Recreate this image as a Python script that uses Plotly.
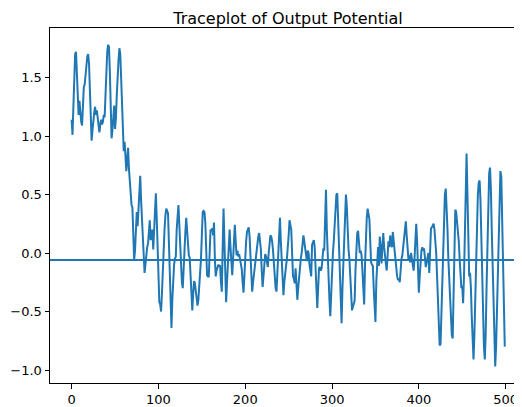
import plotly.graph_objects as go

title_text = "Traceplot of Output Potential"
mean_level = -0.06
x_ticks = [0, 100, 200, 300, 400, 500]
y_ticks = [-1.0, -0.5, 0.0, 0.5, 1.0, 1.5]

# trace values, index 0..499
trace_vals = [
    1.14, 1.01, 1.25, 1.55, 1.70, 1.72, 1.55, 1.35, 1.18, 1.30,
    1.20, 1.12, 1.09, 1.30, 1.42, 1.44, 1.55, 1.65, 1.68, 1.70,
    1.62, 1.40, 1.15, 0.96, 1.05, 1.15, 1.20, 1.25, 1.18, 1.22,
    1.17, 1.10, 1.03, 1.10, 1.14, 1.10, 1.12, 1.18, 1.16, 1.35,
    1.55, 1.72, 1.78, 1.76, 1.55, 1.20, 0.98, 1.05, 1.18, 1.26,
    1.06, 1.15, 1.35, 1.55, 1.65, 1.75, 1.70, 1.50, 1.25, 1.10,
    0.87, 0.95, 0.84, 0.70, 0.80, 0.90, 0.72, 0.60, 0.45, 0.41,
    0.39, 0.15, -0.06, 0.02, 0.20, 0.35, 0.23, 0.40, 0.55, 0.66,
    0.45, 0.28, 0.10, 0.03, -0.17, -0.10, 0.00, 0.05, 0.08, 0.15,
    0.28, 0.11, 0.18, 0.20, 0.03, 0.25, 0.45, 0.51, 0.30, 0.03,
    -0.20, -0.42, -0.44, -0.50, -0.35, -0.12, 0.05, 0.20, 0.32, 0.38,
    0.36, 0.34, 0.10, -0.15, -0.45, -0.64, -0.40, -0.15, -0.10, -0.05,
    -0.03, 0.20, 0.38, 0.41, 0.25, 0.05, -0.12, -0.25, -0.30, -0.10,
    0.03, 0.18, 0.30, 0.15, 0.01, -0.02, -0.04, -0.25, -0.42, -0.49,
    -0.35, -0.24, -0.26, -0.34, -0.40, -0.45, -0.40, -0.29, -0.15, -0.05,
    0.15, 0.35, 0.36, 0.35, 0.26, 0.05, -0.19, -0.20, -0.20, 0.00,
    0.20, 0.19, 0.21, 0.15, 0.26, -0.05, -0.20, -0.15, -0.11, -0.10,
    -0.11, -0.11, -0.25, -0.33, 0.05, 0.38, 0.10, -0.20, -0.42, -0.25,
    -0.05, 0.10, 0.20, 0.05, -0.10, -0.19, -0.05, 0.12, 0.24, 0.10,
    -0.02, 0.02, -0.03, -0.01, -0.05, -0.10, -0.14, -0.25, -0.34, -0.20,
    -0.02, 0.10, 0.18, 0.20, 0.22, 0.14, -0.05, -0.20, -0.33, -0.25,
    -0.18, -0.12, -0.05, 0.05, 0.08, 0.14, 0.17, 0.10, 0.03, -0.15,
    -0.29, -0.20, -0.05, -0.01, -0.03, -0.08, -0.12, 0.00, 0.10, 0.15,
    0.14, 0.10, 0.02, -0.10, -0.22, -0.30, -0.33, -0.15, 0.05, 0.20,
    0.30, 0.10, -0.08, -0.25, -0.36, -0.25, -0.15, -0.11, -0.05, 0.02,
    0.15, 0.28, 0.25, 0.20, 0.00, -0.20, -0.22, -0.26, -0.13, -0.30,
    -0.40, -0.30, -0.20, -0.11, -0.05, 0.00, 0.10, 0.15, 0.10, 0.03,
    -0.03, -0.07, 0.02, 0.00, -0.10, -0.15, -0.20, 0.07, 0.10, 0.11,
    0.05, -0.15, -0.35, -0.47, -0.30, -0.13, -0.12, -0.15, -0.13, 0.00,
    0.04, 0.02, 0.30, 0.54, 0.20, -0.06, -0.25, -0.40, -0.54, -0.30,
    -0.10, 0.00, 0.10, 0.25, 0.40, 0.50, 0.51, 0.25, 0.00, -0.25,
    -0.45, -0.60, -0.30, -0.05, 0.10, 0.30, 0.50, 0.40, 0.15, 0.03,
    -0.05, -0.20, -0.35, -0.49, -0.46, -0.43, -0.41, -0.15, 0.10, 0.17,
    0.19, 0.10, 0.00, 0.02, -0.02, -0.15, -0.30, -0.44, -0.10, 0.22,
    0.30, 0.38, 0.33, 0.29, 0.10, -0.08, -0.10, -0.11, -0.30, -0.45,
    -0.59, -0.25, 0.00, 0.05, -0.11, 0.14, 0.05, -0.09, 0.05, 0.17,
    0.05, -0.05, -0.09, -0.15, 0.00, 0.10, 0.05, 0.15, 0.08, 0.05,
    0.18, 0.10, 0.00, -0.08, -0.15, -0.20, -0.23, -0.22, -0.25, -0.10,
    -0.05, -0.02, 0.05, 0.12, 0.20, 0.27, 0.15, 0.03, -0.05, -0.02,
    -0.08, 0.00, -0.05, -0.10, -0.15, -0.05, 0.10, 0.25, 0.10, -0.15,
    -0.34, -0.20, -0.05, 0.02, 0.05, 0.02, 0.04, -0.05, -0.12, -0.08,
    -0.05, 0.00, -0.17, 0.05, 0.21, 0.22, 0.24, 0.25, 0.20, 0.10,
    0.00, -0.20, -0.40, -0.65, -0.79, -0.78, -0.55, -0.25, 0.05, 0.30,
    0.50, 0.55, 0.40, 0.20, -0.05, -0.25, -0.45, -0.60, -0.70, -0.73,
    -0.40, 0.05, 0.37, 0.35, 0.28, 0.20, 0.10, -0.05, -0.25, -0.30,
    -0.28, -0.43, -0.20, 0.20, 0.60, 0.85, 0.50, 0.00, -0.20, -0.17,
    -0.30, -0.55, -0.80, -0.91, -0.70, -0.35, -0.05, 0.25, 0.50, 0.60,
    0.62, 0.45, 0.10, -0.25, -0.55, -0.80, -0.91, -0.70, -0.30, 0.10,
    0.45, 0.68, 0.73, 0.55, 0.20, -0.15, -0.50, -0.80, -0.97, -0.80,
    -0.45, -0.05, 0.30, 0.58, 0.70, 0.65, 0.35, -0.10, -0.50, -0.80,
]
iterations = list(range(len(trace_vals)))

line_color = "#1f77b4"
font_family = "DejaVu Sans, sans-serif"

# the page body has an 8px default margin; size the figure to fit the window
W, H, OFF = 514, 399, 8

fig = go.Figure()
fig.add_trace(go.Scatter(
    x=iterations, y=trace_vals, mode="lines",
    line=dict(color=line_color, width=2),
    hoverinfo="skip", showlegend=False,
))
fig.add_hline(y=mean_level, line=dict(color=line_color, width=2))

fig.update_layout(
    width=W, height=H,
    margin=dict(l=50 - OFF, r=0, t=28 - OFF, b=24, pad=0, autoexpand=False),
    paper_bgcolor="white", plot_bgcolor="white",
    font=dict(family=font_family, color="black", size=13),
    title=dict(text=title_text, x=(288 - OFF) / W, xanchor="center",
               y=1 - 10 / H, yanchor="middle", yref="container",
               font=dict(size=16, color="black", family=font_family)),
    xaxis=dict(range=[-24.95, 518.85], tickvals=x_ticks, ticks="outside",
               ticklen=4.5, tickwidth=1, tickcolor="black",
               showline=True, linecolor="black", linewidth=1, mirror=True,
               showgrid=False, zeroline=False, tickfont=dict(size=13),
               automargin=False, ticklabelstandoff=0),
    yaxis=dict(range=[-1.111, 1.923], tickvals=y_ticks, tickformat=".1f",
               ticks="outside", ticklen=4.5, tickwidth=1, tickcolor="black",
               showline=True, linecolor="black", linewidth=1, mirror=False,
               showgrid=False, zeroline=False, tickfont=dict(size=13),
               automargin=False),
)

fig.write_html("out.html")
